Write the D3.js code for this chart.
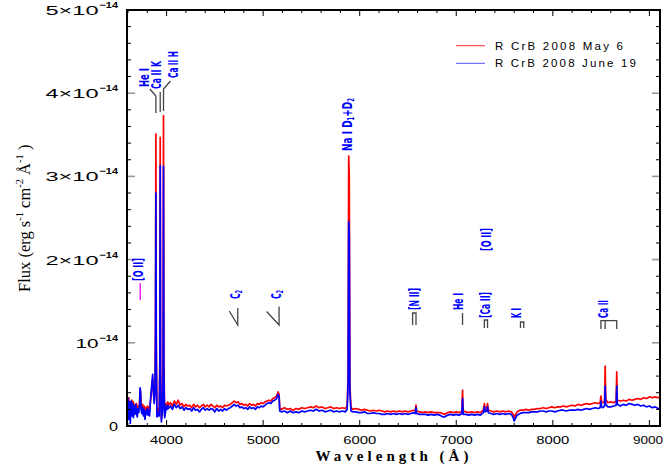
<!DOCTYPE html>
<html><head><meta charset="utf-8">
<script src="https://cdn.jsdelivr.net/npm/d3@7"></script>
<style>body{margin:0;background:#fff}svg{display:block}</style>
</head><body>
<svg id="c" width="664" height="468"></svg>
<script>
// ---------------- DATA (flux in units of 1e-14 erg s^-1 cm^-2 A^-1) ----------------
const wavelength = [
 3592,3600,3608,3616,3624,3632,3640,3648,3656,3664,
 3672,3680,3688,3696,3704,3712,3720,3726,3730,3736,
 3744,3752,3760,3768,3776,3784,3792,3800,3808,3816,
 3824,3832,3840,3848,3856,3864,3872,3880,3885,3889,
 3893,3900,3908,3916,3924,3930,3934,3938,3946,3954,
 3960,3964,3968,3972,3980,3988,3996,4004,4012,4020,
 4040,4060,4080,4100,4120,4140,4160,4180,4200,4220,
 4240,4260,4280,4300,4320,4340,4360,4380,4400,4420,
 4440,4460,4480,4500,4520,4540,4560,4580,4600,4620,
 4640,4660,4680,4700,4720,4740,4760,4780,4800,4820,
 4840,4860,4880,4900,4920,4940,4960,4980,5000,5020,
 5040,5060,5080,5100,5120,5140,5155,5165,5172,5190,
 5220,5250,5280,5310,5340,5370,5400,5430,5460,5490,
 5520,5550,5580,5610,5640,5670,5700,5730,5760,5790,
 5820,5850,5870,5880,5886,5892,5898,5910,5930,5960,
 5990,6020,6050,6080,6110,6140,6170,6200,6230,6260,
 6290,6320,6350,6380,6410,6440,6470,6500,6530,6560,
 6576,6583,6590,6620,6650,6680,6710,6740,6770,6800,
 6830,6860,6880,6910,6940,6970,7000,7030,7058,7065,
 7072,7100,7130,7160,7190,7220,7250,7280,7291,7300,
 7315,7324,7333,7360,7390,7420,7450,7480,7510,7540,
 7570,7590,7600,7612,7630,7660,7690,7720,7750,7780,
 7810,7840,7870,7900,7930,7960,7990,8020,8050,8080,
 8110,8140,8170,8200,8230,8260,8290,8320,8350,8380,
 8410,8440,8470,8490,8498,8506,8520,8536,8542,8548,
 8570,8600,8630,8656,8662,8668,8700,8730,8760,8790,
 8820,8850,8880,8910,8940,8970,9000,9030,9060,9090,
 9110
];
const fluxMay6 = [
 0.30,0.18,0.34,0.14,0.27,0.20,0.31,0.17,0.29,0.21,
 0.25,0.19,0.27,0.15,0.24,0.20,0.27,0.44,0.40,0.24,
 0.19,0.26,0.17,0.24,0.15,0.22,0.19,0.24,0.17,0.23,
 0.18,0.28,0.36,0.48,0.57,0.42,0.30,0.45,1.20,3.51,
 1.10,0.14,0.16,0.21,0.17,0.80,3.47,0.70,0.08,0.19,
 0.24,0.90,3.73,0.80,0.12,0.20,0.27,0.24,0.29,0.25,
 0.28,0.24,0.30,0.26,0.31,0.25,0.27,0.23,0.26,0.24,
 0.25,0.22,0.26,0.23,0.25,0.22,0.24,0.26,0.23,0.25,
 0.23,0.26,0.24,0.22,0.25,0.23,0.24,0.22,0.25,0.24,
 0.25,0.26,0.28,0.30,0.28,0.29,0.26,0.27,0.25,0.26,
 0.24,0.27,0.25,0.26,0.24,0.27,0.26,0.28,0.27,0.29,
 0.30,0.31,0.30,0.33,0.34,0.36,0.41,0.38,0.21,0.20,
 0.22,0.20,0.21,0.19,0.21,0.20,0.22,0.21,0.22,0.23,
 0.22,0.24,0.22,0.23,0.21,0.22,0.23,0.21,0.22,0.21,
 0.22,0.21,0.24,0.60,3.245,3.00,0.50,0.22,0.20,0.21,
 0.20,0.19,0.20,0.19,0.18,0.19,0.18,0.19,0.18,0.17,
 0.18,0.17,0.18,0.17,0.18,0.17,0.18,0.17,0.18,0.19,
 0.18,0.25,0.18,0.17,0.16,0.17,0.16,0.17,0.16,0.16,
 0.16,0.15,0.14,0.16,0.17,0.16,0.17,0.16,0.18,0.43,
 0.18,0.17,0.16,0.17,0.16,0.17,0.16,0.19,0.27,0.20,
 0.21,0.27,0.19,0.18,0.17,0.18,0.17,0.18,0.17,0.18,
 0.17,0.14,0.10,0.13,0.17,0.19,0.19,0.20,0.19,0.20,
 0.20,0.21,0.21,0.22,0.21,0.22,0.23,0.22,0.23,0.23,
 0.24,0.23,0.24,0.25,0.24,0.26,0.25,0.26,0.27,0.26,
 0.27,0.28,0.27,0.28,0.36,0.29,0.28,0.30,0.72,0.32,
 0.28,0.29,0.28,0.30,0.65,0.31,0.30,0.31,0.30,0.32,
 0.31,0.32,0.33,0.32,0.34,0.33,0.35,0.34,0.35,0.34,
 0.345
];
const fluxJune19 = [
 0.24,0.33,0.08,0.29,0.03,0.30,0.12,0.27,0.10,0.24,
 0.14,0.26,0.17,0.11,0.21,0.16,0.25,0.46,0.42,0.20,
 0.15,0.22,0.12,0.20,0.08,0.18,0.14,0.21,0.13,0.19,
 0.12,0.30,0.40,0.52,0.62,0.40,0.27,0.42,1.00,2.80,
 0.90,0.11,0.12,0.16,0.12,0.70,3.13,0.60,0.05,0.15,
 0.19,0.70,3.12,0.60,0.10,0.16,0.24,0.20,0.25,0.21,
 0.24,0.20,0.26,0.22,0.25,0.21,0.23,0.19,0.22,0.20,
 0.21,0.18,0.22,0.19,0.20,0.17,0.20,0.22,0.19,0.21,
 0.19,0.21,0.20,0.17,0.21,0.18,0.20,0.18,0.21,0.19,
 0.21,0.22,0.24,0.26,0.24,0.25,0.22,0.23,0.21,0.22,
 0.20,0.23,0.21,0.22,0.20,0.23,0.22,0.24,0.23,0.25,
 0.27,0.28,0.27,0.30,0.31,0.33,0.38,0.35,0.18,0.17,
 0.18,0.16,0.18,0.16,0.17,0.16,0.18,0.17,0.18,0.19,
 0.18,0.20,0.18,0.19,0.17,0.18,0.19,0.17,0.18,0.17,
 0.18,0.17,0.20,0.50,2.456,2.30,0.40,0.18,0.17,0.17,
 0.16,0.16,0.17,0.15,0.15,0.16,0.15,0.15,0.14,0.14,
 0.15,0.14,0.15,0.14,0.15,0.14,0.15,0.14,0.15,0.16,
 0.15,0.22,0.15,0.14,0.14,0.14,0.13,0.14,0.13,0.14,
 0.13,0.11,0.11,0.13,0.14,0.13,0.14,0.13,0.15,0.33,
 0.14,0.14,0.13,0.14,0.13,0.14,0.13,0.16,0.23,0.17,
 0.18,0.23,0.16,0.15,0.14,0.15,0.14,0.15,0.14,0.15,
 0.14,0.10,0.06,0.09,0.13,0.15,0.16,0.16,0.16,0.17,
 0.17,0.17,0.18,0.18,0.17,0.18,0.18,0.17,0.18,0.19,
 0.19,0.18,0.19,0.19,0.19,0.20,0.19,0.20,0.21,0.20,
 0.21,0.22,0.21,0.22,0.30,0.23,0.22,0.24,0.48,0.26,
 0.23,0.23,0.24,0.25,0.48,0.26,0.24,0.26,0.25,0.27,
 0.26,0.25,0.26,0.24,0.25,0.23,0.24,0.22,0.23,0.21,
 0.21
];
const seriesNames = ["R CrB 2008 May 6", "R CrB 2008 June 19"];
const xTickLabels = ["4000","5000","6000","7000","8000","9000"];
const yTickValues = [0,1,2,3,4,5];
const yTickBase = ["0","10","2\u00d710","3\u00d710","4\u00d710","5\u00d710"];
const yTickExp  = ["","\u221214","\u221214","\u221214","\u221214","\u221214"];

// line identifications: label, wavelengths marked
const lineLabels = ["He I","Ca II K","Ca II H","[O II]","C2","C2","Na I D1+D2","[N II]","He I","[Ca II]","[O II]","K I","Ca II"];
const lineWaves  = [[3889],[3934],[3968],[3727],[4737],[5165],[5890],[6548,6583],[7065],[7291,7324],[7325],[7665,7699],[8498,8542,8662]];

// ---------------- LAYOUT ----------------
const L = 127, R = 660, T = 10, B = 426;
const svg = d3.select("#c");
const x = d3.scaleLinear().domain([3590, 9110]).range([L, R]);
const y = d3.scaleLinear().domain([0, 5]).range([B, T]);

const sans = "'Liberation Sans', Arial, Helvetica, sans-serif";
const serif = "'Liberation Serif', 'Times New Roman', serif";
const narrow = "'Liberation Sans Narrow', 'DejaVu Sans Condensed', 'Arial Narrow', sans-serif";

svg.append("clipPath").attr("id","clip").append("rect")
  .attr("x", L).attr("y", T).attr("width", R-L).attr("height", B-T);

// spectra
const pts = (f) => wavelength.map((w,i) => [w, f[i]]);
const line = d3.line().x(d => x(d[0])).y(d => y(d[1]));
const gS = svg.append("g").attr("clip-path","url(#clip)");
gS.append("path").attr("d", line(pts(fluxMay6))).attr("fill","none")
  .attr("stroke","#ff0000").attr("stroke-width",1.7).attr("stroke-linejoin","round");
gS.append("path").attr("d", line(pts(fluxJune19))).attr("fill","none")
  .attr("stroke","#0000ff").attr("stroke-width",1.7).attr("stroke-linejoin","round");

// ticks
const gT = svg.append("g");
d3.range(3600, 9101, 200).forEach(v => {
  const major = v % 1000 === 0;
  const len = major ? 6 : 3;
  gT.append("line").attr("x1", x(v)).attr("x2", x(v)).attr("y1", B).attr("y2", B-len)
    .attr("stroke","#000").attr("stroke-width",1);
  gT.append("line").attr("x1", x(v)).attr("x2", x(v)).attr("y1", T).attr("y2", T+len)
    .attr("stroke","#000").attr("stroke-width",1);
});
d3.range(0, 26).map(i => i*0.2).forEach(v => {
  const major = Math.abs(v - Math.round(v)) < 1e-6;
  const len = major ? 8 : 4;
  const col = major ? "#999" : "#000";
  const sw = major ? 1.6 : 1;
  gT.append("line").attr("x1", L).attr("x2", L+len).attr("y1", y(v)).attr("y2", y(v))
    .attr("stroke", col).attr("stroke-width", sw);
  gT.append("line").attr("x1", R).attr("x2", R-len).attr("y1", y(v)).attr("y2", y(v))
    .attr("stroke", col).attr("stroke-width", sw);
});

// frame
svg.append("rect").attr("x", L).attr("y", T).attr("width", R-L).attr("height", B-T)
  .attr("fill","none").attr("stroke","#000").attr("stroke-width",2);

// x tick labels
xTickLabels.forEach(t => {
  const last = +t === 9000;
  svg.append("text").attr("x", last ? 663 : x(+t)).attr("y", 444)
    .attr("text-anchor", last ? "end" : "middle")
    .attr("font-family", sans).attr("font-size", 11.5)
    .attr("textLength", last ? 30 : 33).attr("lengthAdjust","spacingAndGlyphs").text(t);
});
// y tick labels
yTickValues.forEach((v,i) => {
  if (yTickExp[i] === "") {
    svg.append("text").attr("x", 118).attr("y", y(v)+5).attr("text-anchor","end")
      .attr("font-family", sans).attr("font-size", 12.5)
      .attr("textLength", 9).attr("lengthAdjust","spacingAndGlyphs").text(yTickBase[i]);
  } else {
    const len = yTickBase[i].length > 2 ? 53 : 23;
    svg.append("text").attr("x", 98.5).attr("y", y(v)+5).attr("text-anchor","end")
      .attr("font-family", sans).attr("font-size", 12.5)
      .attr("textLength", len).attr("lengthAdjust","spacingAndGlyphs").text(yTickBase[i]);
    svg.append("text").attr("x", 99.5).attr("y", y(v)-2).attr("text-anchor","start")
      .attr("font-family", sans).attr("font-size", 9).attr("font-weight","bold")
      .attr("textLength", 18.5).attr("lengthAdjust","spacingAndGlyphs").text(yTickExp[i]);
  }
});

// axis titles
svg.append("text").attr("x", 392).attr("y", 461).attr("text-anchor","middle")
  .attr("font-family", serif).attr("font-size", 15).attr("font-weight","bold")
  .attr("textLength", 153).attr("lengthAdjust","spacing").text("Wavelength (\u00c5)");

const yl = svg.append("text").attr("transform","translate(29.5,292) rotate(-90)")
  .attr("font-family", serif).attr("font-size", 16.5).attr("text-anchor","start");
yl.append("tspan").text("Flux (erg s");
yl.append("tspan").attr("dy",-7).attr("font-size",10.5).text("-1");
yl.append("tspan").attr("dy",7).text(" cm");
yl.append("tspan").attr("dy",-7).attr("font-size",10.5).text("-2");
yl.append("tspan").attr("dy",7).text(" \u00c5");
yl.append("tspan").attr("dy",-7).attr("font-size",10.5).text("-1");
yl.append("tspan").attr("dy",7).text("  )");

// legend
const colors = ["#ff3030","#5050ff"];
seriesNames.forEach((n,i) => {
  const ly = [45.7, 63.3][i];
  svg.append("line").attr("x1",456).attr("x2",485).attr("y1",ly).attr("y2",ly)
    .attr("stroke", colors[i]).attr("stroke-width",1);
  svg.append("text").attr("x",495).attr("y",ly+4).attr("font-family",sans).attr("font-size",11.5)
    .attr("textLength", i === 0 ? 128 : 141).attr("lengthAdjust","spacing").text(n);
});

// line identification labels (rotated) : centre x, bottom y, length
const labLayout = [
  {cx:143.5, yb:87, len:19},
  {cx:155.5, yb:89, len:28},
  {cx:173, yb:78, len:27},
  {cx:137.5, yb:281, len:23},
  {cx:235, yb:299, len:9},
  {cx:276, yb:299, len:9},
  {cx:347, yb:151, len:53},
  {cx:413.5, yb:310, len:22},
  {cx:458, yb:310, len:17},
  {cx:484.5, yb:318, len:26},
  {cx:486, yb:251, len:23},
  {cx:515.5, yb:318, len:10},
  {cx:603, yb:318, len:18}
];
lineLabels.forEach((lab, i) => {
  const p = labLayout[i];
  const t = svg.append("text").attr("transform", `translate(${p.cx},${p.yb}) rotate(-90)`)
    .attr("dominant-baseline","central").attr("font-family", narrow).attr("font-size", 13.5)
    .attr("font-weight","bold")
    .attr("fill","#0000ff").attr("textLength", p.len).attr("lengthAdjust","spacingAndGlyphs");
  const m = lab.match(/^(.*?)(\d)(?:\+(\D+)(\d))?$/);
  if (m) {
    t.append("tspan").text(m[1]);
    t.append("tspan").attr("font-size",8).attr("dy",3.5).text(m[2]);
    if (m[3]) {
      t.append("tspan").attr("dy",-3.5).text("+" + m[3]);
      t.append("tspan").attr("font-size",8).attr("dy",3.5).text(m[4]);
    }
  } else t.text(lab);
});

// leader marks
const gL = svg.append("g").attr("fill","none").attr("stroke","#444").attr("stroke-width",1.3);
const xw = w => x(w);
const lw = lineWaves;
gL.append("path").attr("d", `M${xw(lw[0][0])-6},89 L${xw(lw[0][0])},96 V113`);
gL.append("path").attr("d", `M${xw(lw[1][0])},92 V112`);
gL.append("path").attr("d", `M${xw(lw[2][0])+7},81 L${xw(lw[2][0])},89 V111`);
svg.append("path").attr("d", `M${xw(lw[3][0])},283 V300`).attr("stroke","#ff00ff").attr("stroke-width",1.3);
gL.append("path").attr("d", `M${xw(lw[4][0])-8.5},311 L${xw(lw[4][0])},325 V308`);
gL.append("path").attr("d", `M${xw(lw[5][0])-12.5},311.5 L${xw(lw[5][0])},325 V306.5`);
gL.append("path").attr("d", `M${xw(lw[7][0])},325 V313 H${xw(lw[7][1])} V325`);
gL.append("path").attr("d", `M${xw(lw[8][0])},313 V325`);
gL.append("path").attr("d", `M${xw(lw[9][0])},328 V320 H${xw(lw[9][1])} V328`);
gL.append("path").attr("d", `M${xw(lw[11][0])},328 V322 H${xw(lw[11][1])} V328`);
gL.append("path").attr("d", `M${xw(lw[12][0])},329 V320.7 H${xw(lw[12][2])} V329 M${xw(lw[12][1])},320.7 V329`);
</script>
</body></html>
